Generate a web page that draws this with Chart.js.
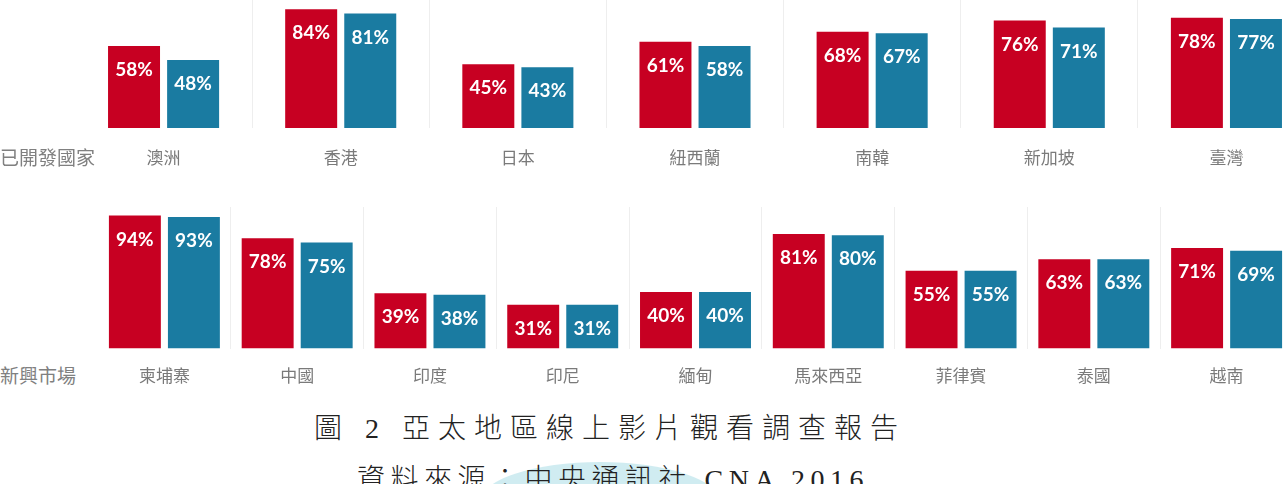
<!DOCTYPE html>
<html>
<head>
<meta charset="utf-8">
<script src="https://cdn.jsdelivr.net/npm/chart.js@4"></script>
<style>
    html, body { margin: 0; padding: 0; overflow: hidden; background: #fff; }
    body { position: relative; width: 1285px; height: 484px; }
    .wrap { position: absolute; }
    .rowLabel {
        position: absolute; left: 0; font-family: "Noto Sans CJK TC", sans-serif;
        font-size: 19px; color: #808080; line-height: 24px; white-space: nowrap;
    }
    .caption {
        position: absolute; white-space: nowrap; color: #222;
        font-family: "Liberation Serif", "Noto Sans CJK TC", serif;
        font-size: 28px; line-height: 32px; font-weight: 300;
    }
    #blob {
        position: absolute; left: 480px; top: 462px; width: 240px; height: 80px;
        border-radius: 50%; background: rgba(150, 212, 224, 0.45);
    }
</style>
</head>
<body>

<div class="wrap" style="left:75px; top:0; width:1240px; height:186.4px;"><canvas id="devChart"></canvas></div>
<div class="wrap" style="left:98px; top:206.5px; width:1195px; height:195.9px;"><canvas id="emChart"></canvas></div>

<div class="rowLabel" style="top:145px;">已開發國家</div>
<div class="rowLabel" style="top:363px;">新興市場</div>

<div id="blob"></div>
<div class="caption" style="left:314px; top:413px; letter-spacing:8px;">圖 2 亞太地區線上影片觀看調查報告</div>
<div class="caption" style="left:357px; top:464px; letter-spacing:5.5px;">資料來源：中央通訊社 CNA 2016</div>

<script>
// 已開發國家
const devCountries = ['澳洲', '香港', '日本', '紐西蘭', '南韓', '新加坡', '臺灣'];
const devRed = [58, 84, 45, 61, 68, 76, 78];
const devBlue = [48, 81, 43, 58, 67, 71, 77];

// 新興市場
const emCountries = ['柬埔寨', '中國', '印度', '印尼', '緬甸', '馬來西亞', '菲律賓', '泰國', '越南'];
const emRed = [94, 78, 39, 31, 40, 81, 55, 63, 71];
const emBlue = [93, 75, 38, 31, 40, 80, 55, 63, 69];

const RED = '#C70022';
const BLUE = '#1A7BA1';

// white % labels inside the top of each bar
const valueLabels = {
    id: 'valueLabels',
    afterDatasetsDraw(chart) {
        const ctx = chart.ctx;
        ctx.save();
        ctx.font = 'bold 19px Lato, sans-serif';
        ctx.fillStyle = '#fff';
        ctx.textAlign = 'center';
        ctx.textBaseline = 'middle';
        chart.data.datasets.forEach((ds, i) => {
            chart.getDatasetMeta(i).data.forEach((bar, j) => {
                ctx.fillText(ds.data[j] + '%', bar.x, bar.y + 24);
            });
        });
        ctx.restore();
    }
};

function makeChart(id, labels, red, blue, yMax, catPct, tickPad) {
    const n = labels.length;
    return new Chart(document.getElementById(id), {
        type: 'bar',
        data: {
            labels: labels,
            datasets: [
                { label: '系列一', data: red, backgroundColor: RED, barPercentage: 0.88, categoryPercentage: catPct },
                { label: '系列二', data: blue, backgroundColor: BLUE, barPercentage: 0.88, categoryPercentage: catPct }
            ]
        },
        options: {
            responsive: true,
            maintainAspectRatio: false,
            animation: false,
            layout: { padding: 0 },
            plugins: {
                legend: { display: false },
                tooltip: { enabled: false }
            },
            scales: {
                x: {
                    border: { display: false },
                    grid: {
                        drawTicks: false,
                        // only the separators between groups
                        color: c => (c.index === undefined || c.index === 0 || c.index >= n) ? 'rgba(0,0,0,0)' : '#eeeeee'
                    },
                    ticks: {
                        padding: tickPad,
                        color: '#7a7a7a',
                        font: { family: '"Noto Sans CJK TC", sans-serif', size: 17 }
                    }
                },
                y: {
                    display: false,
                    min: 0,
                    max: yMax
                }
            }
        },
        plugins: [valueLabels]
    });
}

makeChart('devChart', devCountries, devRed, devBlue, 90.5, 0.667, 19);
makeChart('emChart', emCountries, emRed, emBlue, 100, 0.889, 17);
</script>
</body>
</html>
